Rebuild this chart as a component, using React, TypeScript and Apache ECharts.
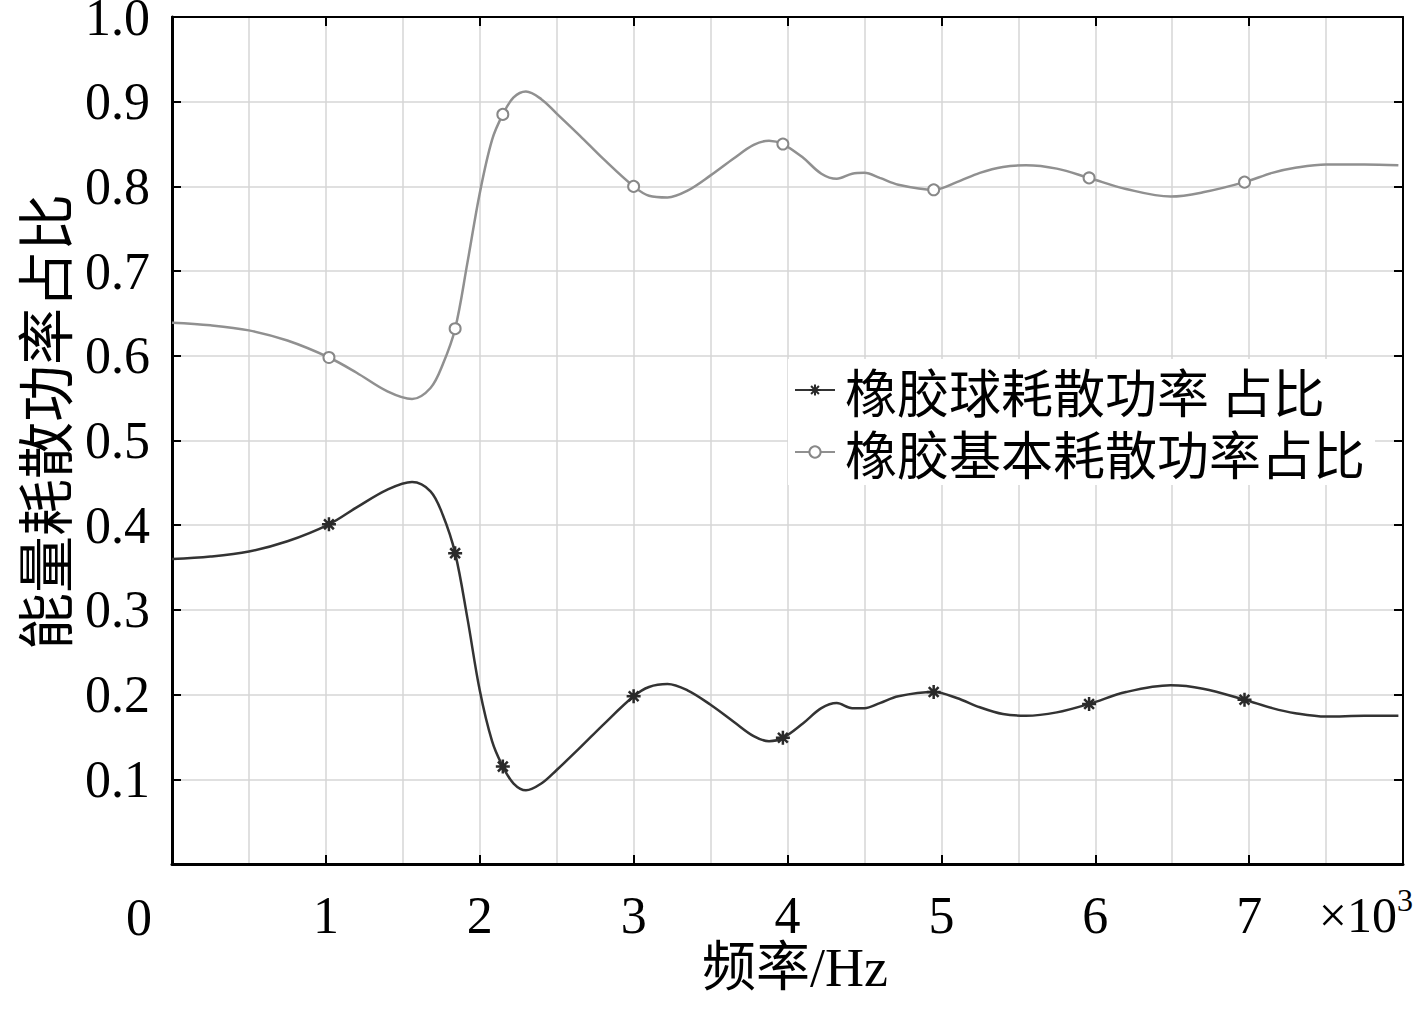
import React, { useEffect, useRef } from "react";
import * as echarts from "echarts";

// frequency (×10^3 Hz)
const freqK = [
  0, 0.25, 0.5, 0.75, 1.02, 1.2, 1.4, 1.56, 1.68, 1.76, 1.84, 1.92, 2.0, 2.08, 2.15, 2.22, 2.3,
  2.4, 2.5, 2.65, 2.8, 3.0, 3.1, 3.22, 3.35, 3.5, 3.65, 3.78, 3.88, 3.97, 4.1, 4.22, 4.32, 4.42,
  4.5, 4.6, 4.72, 4.95, 5.1, 5.25, 5.4, 5.55, 5.75, 5.96, 6.2, 6.49, 6.7, 6.97, 7.15, 7.3, 7.5,
  7.75, 7.97,
];
// 橡胶球耗散功率占比
const ballShare = [
  0.36, 0.363, 0.369, 0.381, 0.401, 0.421, 0.442, 0.451, 0.44, 0.412, 0.367, 0.29, 0.205, 0.145,
  0.115, 0.095, 0.087, 0.095, 0.111, 0.137, 0.164, 0.198, 0.209, 0.2125, 0.205, 0.188, 0.168,
  0.151, 0.145, 0.149, 0.166, 0.184, 0.19, 0.184, 0.184, 0.19, 0.198, 0.203, 0.196, 0.185, 0.177,
  0.175, 0.179, 0.189, 0.203, 0.211, 0.207, 0.194, 0.184, 0.178, 0.174, 0.175, 0.175,
];
// 橡胶基本耗散功率占比
const baseShare = [
  0.639, 0.636, 0.63, 0.618, 0.598, 0.58, 0.558, 0.549, 0.562, 0.59, 0.632, 0.71, 0.792, 0.855,
  0.885, 0.905, 0.912, 0.903, 0.886, 0.86, 0.833, 0.8, 0.789, 0.787, 0.795, 0.813, 0.833, 0.849,
  0.854, 0.85, 0.834, 0.815, 0.809, 0.815, 0.816, 0.81, 0.802, 0.796, 0.805, 0.816, 0.823, 0.825,
  0.821, 0.81, 0.797, 0.788, 0.793, 0.805, 0.816, 0.822, 0.826, 0.826, 0.825,
];
// frequencies where markers are drawn
const markerFreqK = [1.02, 1.84, 2.15, 3.0, 3.97, 4.95, 5.96, 6.97];

const seriesNames = ["橡胶球耗散功率 占比", "橡胶基本耗散功率占比"];
const xAxisTitle = "频率/Hz";
const yAxisTitle = "能量耗散功率占比";

const ASTERISK = "path://M5,0L5,10M0,5L10,5M1.5,1.5L8.5,8.5M1.5,8.5L8.5,1.5";
const NUM_FONT = "'Liberation Serif', 'Noto Sans CJK SC', serif";
const CJK_FONT = "'Noto Sans CJK SC', 'Liberation Serif', sans-serif";

function buildData(ys: number[]) {
  return freqK.map((x, i) => {
    const isMarker = markerFreqK.indexOf(x) >= 0;
    return isMarker ? { value: [x, ys[i]] } : { value: [x, ys[i]], symbol: "none" };
  });
}

export default function App() {
  const ref = useRef<HTMLDivElement>(null);
  useEffect(() => {
    if (!ref.current) return;
    const chart = echarts.init(ref.current, null, { renderer: "svg" });
    const gridColor = "#d6d6d6";
    chart.setOption({
      animation: false,
      backgroundColor: "#fff",
      grid: {
        left: 172,
        top: 17,
        right: 14,
        bottom: 164,
        containLabel: false,
        outerBoundsMode: "none",
      },
      xAxis: [
        {
          type: "value",
          position: "bottom",
          min: 0,
          max: 8,
          interval: 1,
          axisLine: { show: true, onZero: false, lineStyle: { color: "#000", width: 3 } },
          axisTick: { show: true, inside: true, length: 9, lineStyle: { color: "#000", width: 2 } },
          axisLabel: {
            margin: 27,
            fontSize: 52,
            lineHeight: 48,
            fontFamily: NUM_FONT,
            color: "#000",
            formatter: (v: number) => (v === 0 || v === 8 ? "" : String(v)),
          },
          splitLine: { show: true, lineStyle: { color: gridColor, width: 1.5 } },
          minorTick: { show: false, splitNumber: 2 },
          minorSplitLine: { show: true, lineStyle: { color: gridColor, width: 1.5 } },
        },
        {
          type: "value",
          position: "top",
          min: 0,
          max: 8,
          interval: 1,
          axisLine: { show: true, onZero: false, lineStyle: { color: "#000", width: 2 } },
          axisTick: { show: true, inside: true, length: 9, lineStyle: { color: "#000", width: 2 } },
          axisLabel: { show: false },
          splitLine: { show: false },
        },
      ],
      yAxis: [
        {
          type: "value",
          position: "left",
          min: 0,
          max: 1,
          interval: 0.1,
          axisLine: { show: true, onZero: false, lineStyle: { color: "#000", width: 3 } },
          axisTick: { show: true, inside: true, length: 9, lineStyle: { color: "#000", width: 2 } },
          axisLabel: {
            margin: 22,
            fontSize: 52,
            lineHeight: 40,
            fontFamily: NUM_FONT,
            color: "#000",
            formatter: (v: number) => (v === 0 ? "" : v.toFixed(1)),
          },
          splitLine: { show: true, lineStyle: { color: gridColor, width: 1.5 } },
        },
        {
          type: "value",
          position: "right",
          min: 0,
          max: 1,
          interval: 0.1,
          axisLine: { show: true, onZero: false, lineStyle: { color: "#000", width: 2 } },
          axisTick: { show: true, inside: true, length: 9, lineStyle: { color: "#000", width: 2 } },
          axisLabel: { show: false },
          splitLine: { show: false },
        },
      ],
      legend: {
        orient: "vertical",
        left: 788,
        top: 359,
        padding: [4, 10, 6, 6],
        backgroundColor: "#fff",
        itemGap: 8,
        itemWidth: 40,
        itemHeight: 14,
        textStyle: {
          fontSize: 52,
          fontFamily: CJK_FONT,
          color: "#000",
          lineHeight: 54,
          padding: [0, 0, 0, 5],
        },
        data: seriesNames,
      },
      graphic: [
        {
          type: "text",
          left: 126,
          top: 891,
          style: { text: "0", fontSize: 52, lineHeight: 48, fontFamily: NUM_FONT, fill: "#000" },
        },
        {
          type: "text",
          right: 4,
          top: 884,
          style: {
            text: "{a|×10}{b|3}",
            rich: {
              a: { fontSize: 50, fontFamily: NUM_FONT, fill: "#000", verticalAlign: "bottom" },
              b: {
                fontSize: 32,
                fontFamily: NUM_FONT,
                fill: "#000",
                verticalAlign: "top",
                padding: [0, 0, 24, 0],
              },
            },
          },
        },
        {
          type: "text",
          x: 795,
          y: 968,
          style: {
            text: xAxisTitle,
            fontSize: 54,
            lineHeight: 48,
            fontFamily: "'Liberation Serif', 'Noto Sans CJK SC', serif",
            fill: "#000",
            align: "center",
            verticalAlign: "middle",
          },
        },
        {
          type: "text",
          x: 42,
          y: 422,
          rotation: Math.PI / 2,
          style: {
            text: yAxisTitle,
            fontSize: 57,
            fontFamily: CJK_FONT,
            fill: "#000",
            align: "center",
            verticalAlign: "middle",
          },
        },
      ],
      series: [
        {
          name: seriesNames[0],
          type: "line",
          smooth: 0.35,
          xAxisIndex: 0,
          yAxisIndex: 0,
          symbol: ASTERISK,
          symbolSize: 14,
          showSymbol: true,
          lineStyle: { color: "#333", width: 2.5 },
          itemStyle: { color: "#2a2a2a", borderColor: "#2a2a2a", borderWidth: 2.5 },
          data: buildData(ballShare),
          z: 3,
        },
        {
          name: seriesNames[1],
          type: "line",
          smooth: 0.35,
          xAxisIndex: 0,
          yAxisIndex: 0,
          symbol: "emptyCircle",
          symbolSize: 11,
          showSymbol: true,
          lineStyle: { color: "#909090", width: 2.5 },
          itemStyle: { color: "#888", borderColor: "#888", borderWidth: 1.8 },
          data: buildData(baseShare),
          z: 3,
        },
      ],
    });
    return () => chart.dispose();
  }, []);
  return (
    <div ref={ref} style={{ width: 1417, height: 1028, position: "absolute", left: 0, top: 0 }} />
  );
}
